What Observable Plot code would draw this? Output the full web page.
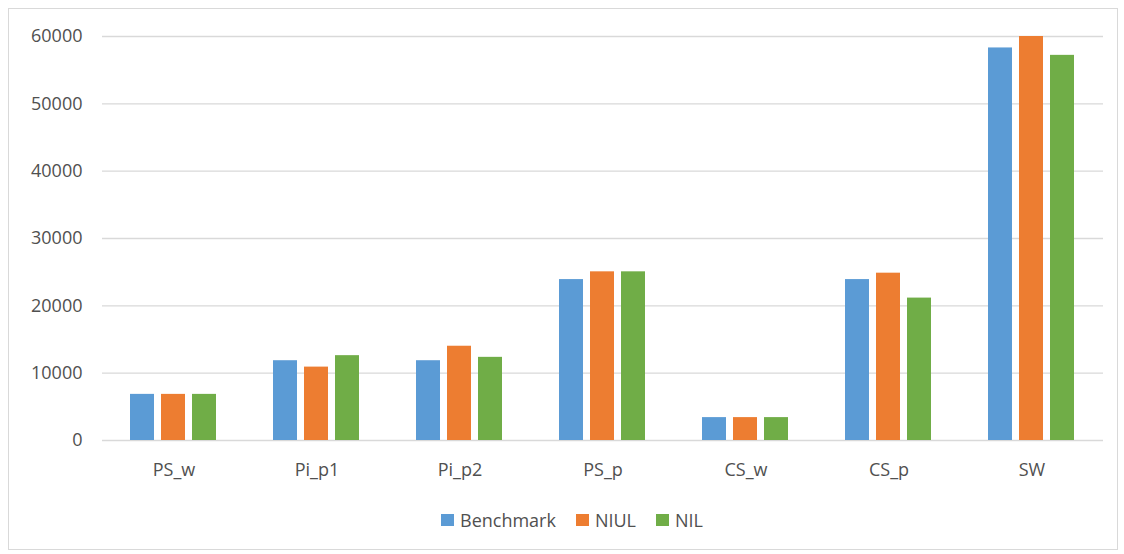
<!DOCTYPE html>
<html><head><meta charset="utf-8">
<script src="https://cdn.jsdelivr.net/npm/d3@7"></script>
<script src="https://cdn.jsdelivr.net/npm/@observablehq/plot@0.6"></script>
<style>
body{margin:0;background:#fff;font-family:"Open Sans",sans-serif;}
#frame{position:absolute;left:8px;top:8px;width:1110px;height:542px;border:1px solid #d9d9d9;box-sizing:border-box;}
#chart{position:absolute;left:0;top:0;}
#legend{position:absolute;left:441px;top:507px;display:flex;align-items:center;font-size:18px;color:#505050;line-height:26px;}
.sw{width:13px;height:12px;display:inline-block;margin-right:6px;}
.item{display:flex;align-items:center;margin-right:20px;}
</style></head><body>
<div id="frame"></div><div id="chart"></div><div id="legend"></div>
<script>
const categories = ["PS_w","Pi_p1","Pi_p2","PS_p","CS_w","CS_p","SW"];
const seriesNames = ["Benchmark","NIUL","NIL"];
const seriesColors = ["#5B9BD5","#ED7D31","#70AD47"];
const benchmark = [6850, 11850, 11850, 23900, 3400, 23900, 58300];
const niul      = [6850, 10900, 14000, 25050, 3400, 24850, 60000];
const nil       = [6850, 12600, 12350, 25050, 3400, 21150, 57200];
const yTicks = [0, 10000, 20000, 30000, 40000, 50000, 60000];

const rows = [];
[benchmark, niul, nil].forEach((vals, si) =>
  categories.forEach((c, ci) => rows.push({category: c, series: seriesNames[si], value: vals[ci]})));

const plot = Plot.plot({
  width: 1124, height: 490,
  marginLeft: 100, marginRight: 19, marginTop: 36, marginBottom: 50,
  style: {fontFamily: "Open Sans", fontSize: "18px", color: "#505050", background: "transparent", overflow: "visible"},
  fx: {domain: categories, paddingInner: 0, paddingOuter: 0, label: null},
  x: {domain: seriesNames, paddingInner: 0.22, paddingOuter: 0.853, axis: null},
  y: {domain: [0, 60000], label: null},
  color: {domain: seriesNames, range: seriesColors},
  marks: [
    Plot.ruleY(yTicks, {stroke: "#d9d9d9", strokeWidth: 1.3}),
    Plot.barY(rows, {fx: "category", x: "series", y: "value", fill: "series"}),
    Plot.axisY({ticks: yTicks, tickSize: 0, tickPadding: 20, tickFormat: d3.format("d"), label: null}),
    Plot.axisFx({anchor: "bottom", tickSize: 0, tickPadding: 23, label: null})
  ]
});
document.getElementById("chart").appendChild(plot);

const legend = document.getElementById("legend");
seriesNames.forEach((name, i) => {
  const item = document.createElement("span");
  item.className = "item";
  const sw = document.createElement("span");
  sw.className = "sw";
  sw.style.background = seriesColors[i];
  item.appendChild(sw);
  item.appendChild(document.createTextNode(name));
  legend.appendChild(item);
});
</script>
</body></html>
